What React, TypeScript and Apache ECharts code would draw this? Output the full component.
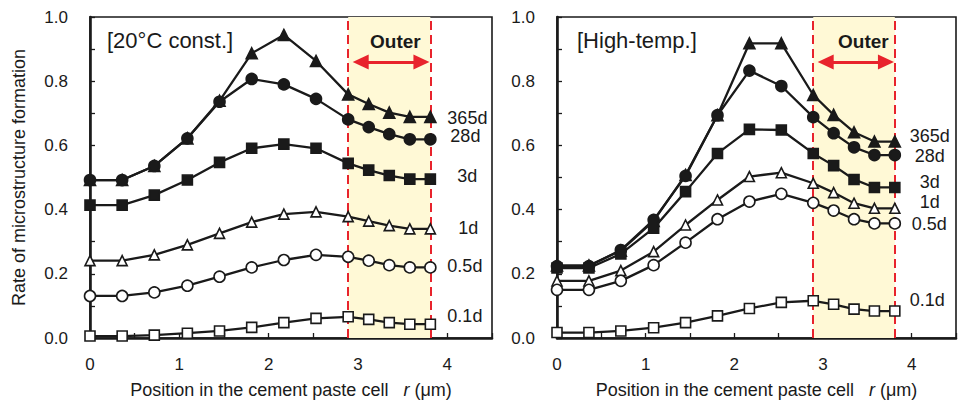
import React, { useEffect, useRef } from "react";
import * as echarts from "echarts";

// Radial positions in the cement paste cell (µm)
const positions = [0, 0.36, 0.72, 1.09, 1.45, 1.81, 2.17, 2.53, 2.89, 3.12, 3.35, 3.58, 3.81];
const ageNames = ["365d", "28d", "3d", "1d", "0.5d", "0.1d"];

// [20°C const.]
const const365d = [0.492, 0.492, 0.536, 0.622, 0.739, 0.887, 0.944, 0.863, 0.759, 0.729, 0.702, 0.689, 0.689];
const const28d = [0.492, 0.492, 0.536, 0.622, 0.736, 0.807, 0.79, 0.745, 0.681, 0.657, 0.635, 0.619, 0.619];
const const3d = [0.414, 0.414, 0.445, 0.492, 0.547, 0.591, 0.604, 0.591, 0.544, 0.523, 0.506, 0.495, 0.495];
const const1d = [0.241, 0.241, 0.259, 0.29, 0.326, 0.361, 0.386, 0.393, 0.378, 0.364, 0.35, 0.34, 0.34];
const const05d = [0.131, 0.131, 0.142, 0.163, 0.191, 0.22, 0.243, 0.259, 0.253, 0.241, 0.227, 0.22, 0.22];
const const01d = [0.006, 0.006, 0.009, 0.015, 0.022, 0.033, 0.048, 0.061, 0.066, 0.058, 0.048, 0.043, 0.043];

// [High-temp.]
const high365d = [0.226, 0.226, 0.272, 0.365, 0.508, 0.694, 0.918, 0.918, 0.757, 0.695, 0.641, 0.612, 0.612];
const high28d = [0.224, 0.224, 0.274, 0.368, 0.505, 0.694, 0.833, 0.785, 0.688, 0.638, 0.594, 0.57, 0.57];
const high3d = [0.218, 0.218, 0.262, 0.342, 0.456, 0.575, 0.65, 0.648, 0.575, 0.537, 0.494, 0.469, 0.469];
const high1d = [0.178, 0.178, 0.21, 0.269, 0.352, 0.43, 0.503, 0.515, 0.482, 0.453, 0.42, 0.404, 0.404];
const high05d = [0.15, 0.15, 0.178, 0.227, 0.297, 0.37, 0.425, 0.449, 0.421, 0.397, 0.37, 0.357, 0.357];
const high01d = [0.017, 0.017, 0.022, 0.032, 0.048, 0.069, 0.092, 0.111, 0.116, 0.105, 0.09, 0.084, 0.084];

const outerStart = 2.89;
const outerEnd = 3.81;
const xTickLabels = ["0", "1", "2", "3", "4"];
const yTickLabels = ["0.0", "0.2", "0.4", "0.6", "0.8", "1.0"];

const FONT = "Liberation Sans, Arial, Helvetica, sans-serif";
const INK = "#1a1a1a";
const RED = "#e8232c";

const markerStyles = [
  { symbol: "triangle", size: 11, filled: true },
  { symbol: "circle", size: 11, filled: true },
  { symbol: "rect", size: 10, filled: true },
  { symbol: "triangle", size: 10, filled: false },
  { symbol: "circle", size: 11, filled: false },
  { symbol: "rect", size: 10, filled: false },
];

const constOffsets = [
  [17, 1],
  [20, -3],
  [27, -3],
  [28, -1],
  [17, -1],
  [17, -8],
];
const highOffsets = [
  [15, -6],
  [20, 1],
  [25, -5],
  [25, -6],
  [17, 1],
  [15, -11],
];

function buildSeries(values: number[][], axis: number, offsets: number[][]) {
  return values.map((vals, i) => {
    const m = markerStyles[i];
    const s: any = {
      type: "line",
      name: ageNames[i],
      xAxisIndex: axis,
      yAxisIndex: axis,
      data: positions.map((p, k) => [p, vals[k]]),
      symbol: m.symbol,
      symbolSize: m.size,
      showAllSymbol: true,
      z: 10 + i,
      lineStyle: { color: INK, width: 2.3 },
      itemStyle: {
        color: m.filled ? INK : "#ffffff",
        borderColor: INK,
        borderWidth: 1.6,
      },
      emphasis: { disabled: true },
      endLabel: {
        show: true,
        formatter: ageNames[i],
        distance: 0,
        offset: offsets[i],
        align: "left",
        verticalAlign: "middle",
        color: INK,
        fontSize: 18,
        lineHeight: 16,
        fontFamily: FONT,
      },
    };
    return s;
  });
}

function outerMarks(axis: number): any {
  return {
    type: "line",
    xAxisIndex: axis,
    yAxisIndex: axis,
    data: [],
    silent: true,
    z: 1,
    markArea: {
      silent: true,
      itemStyle: { color: "#fff9d6" },
      data: [[{ xAxis: outerStart }, { xAxis: outerEnd }]],
    },
    markLine: {
      silent: true,
      symbol: "none",
      label: { show: false },
      lineStyle: { color: RED, type: [9, 5], width: 2 },
      data: [{ xAxis: outerStart }, { xAxis: outerEnd }],
    },
  };
}

function arrowMark(axis: number): any {
  return {
    type: "line",
    xAxisIndex: axis,
    yAxisIndex: axis,
    data: [],
    silent: true,
    z: 5,
    markLine: {
      silent: true,
      symbol: ["triangle", "triangle"],
      symbolSize: [15, 16],
      label: { show: false },
      lineStyle: { color: RED, type: "solid", width: 3 },
      data: [
        [
          { coord: [3.03, 0.86] },
          { coord: [3.71, 0.86] },
        ],
      ],
    },
  };
}

function xAxis(gridIndex: number): any {
  return {
    type: "value",
    gridIndex,
    min: 0,
    max: 4.5,
    interval: 0.5,
    name: "Position in the cement paste cell   {it|r} (μm)",
    nameLocation: "middle",
    nameGap: 43,
    nameTextStyle: {
      color: INK,
      fontSize: 18,
      fontFamily: FONT,
      rich: {
        it: { fontStyle: "italic", fontSize: 18, fontFamily: FONT, color: INK },
      },
    },
    axisLine: { show: true, onZero: false, lineStyle: { color: INK, width: 2.6 } },
    axisTick: { show: true, inside: true, length: 5, lineStyle: { color: INK, width: 1.3 } },
    splitLine: { show: false },
    axisLabel: {
      margin: 18,
      color: INK,
      fontSize: 17,
      fontFamily: FONT,
      formatter: (v: number) => {
        const idx = Math.round(v);
        return Math.abs(v - idx) < 1e-6 && idx < xTickLabels.length ? xTickLabels[idx] : "";
      },
    },
  };
}

function yAxis(gridIndex: number, withName: boolean): any {
  return {
    type: "value",
    gridIndex,
    min: 0,
    max: 1,
    interval: 0.1,
    name: withName ? "Rate of microstructure formation" : "",
    nameLocation: "middle",
    nameGap: 62,
    nameTextStyle: { color: INK, fontSize: 18, fontFamily: FONT },
    axisLine: { show: true, onZero: false, lineStyle: { color: INK, width: 2.6 } },
    axisTick: { show: true, inside: true, length: 5, lineStyle: { color: INK, width: 1.3 } },
    splitLine: { show: false },
    axisLabel: {
      margin: 22,
      color: INK,
      fontSize: 17,
      fontFamily: FONT,
      formatter: (v: number) => {
        const t = Math.round(v * 10);
        return t % 2 === 0 ? yTickLabels[t / 2] : "";
      },
    },
  };
}

export default function App() {
  const ref = useRef<HTMLDivElement>(null);
  useEffect(() => {
    document.body.style.margin = "0";
    if (!ref.current) return;
    const chart = echarts.init(ref.current, undefined, { renderer: "svg" });
    const option: any = {
      animation: false,
      backgroundColor: "#ffffff",
      textStyle: { fontFamily: FONT },
      grid: [
        { left: 90, top: 17, width: 402, height: 321, show: true, borderColor: INK, borderWidth: 1.6, backgroundColor: "transparent" },
        { left: 557, top: 17, width: 403, height: 321, show: true, borderColor: INK, borderWidth: 1.6, backgroundColor: "transparent" },
      ],
      xAxis: [xAxis(0), xAxis(1)],
      yAxis: [yAxis(0, true), yAxis(1, false)],
      series: [
        outerMarks(0),
        outerMarks(1),
        arrowMark(0),
        arrowMark(1),
        ...buildSeries([const365d, const28d, const3d, const1d, const05d, const01d], 0, constOffsets),
        ...buildSeries([high365d, high28d, high3d, high1d, high05d, high01d], 1, highOffsets),
      ],
      graphic: [
        { type: "text", z: 100, left: 107, top: 29, style: { text: "[20°C const.]", fontSize: 22, fontFamily: FONT, fill: INK } },
        { type: "text", z: 100, left: 577, top: 29, style: { text: "[High-temp.]", fontSize: 22, fontFamily: FONT, fill: INK } },
        { type: "text", z: 100, left: 370, top: 32, style: { text: "Outer", fontSize: 19, fontWeight: "bold", fontFamily: FONT, fill: INK } },
        { type: "text", z: 100, left: 838, top: 32, style: { text: "Outer", fontSize: 19, fontWeight: "bold", fontFamily: FONT, fill: INK } },
      ],
    };
    chart.setOption(option);
    return () => chart.dispose();
  }, []);
  return <div ref={ref} style={{ width: 959, height: 405 }} />;
}
